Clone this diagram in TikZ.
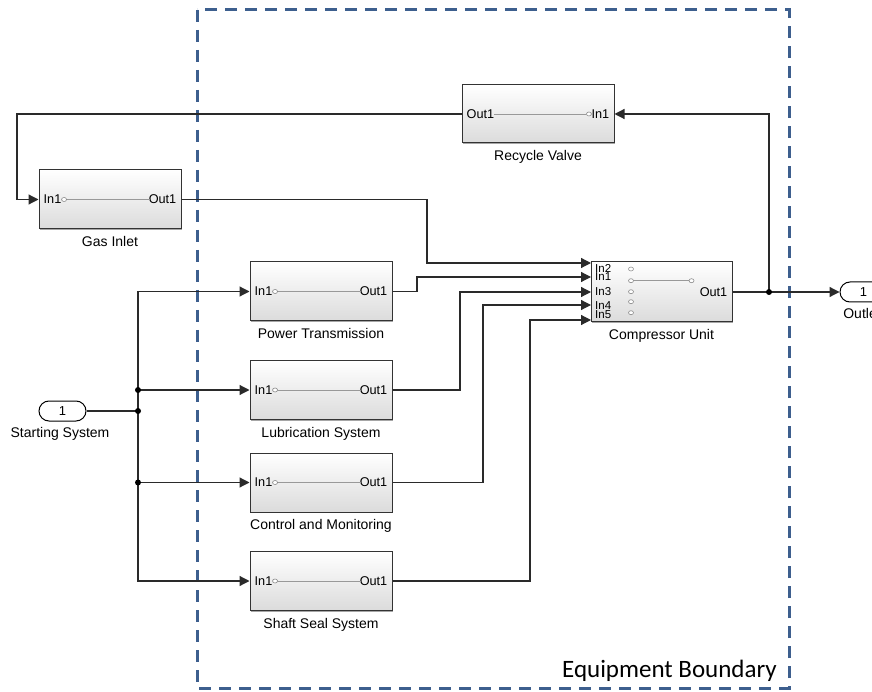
\documentclass[tikz,border=0pt]{standalone}
\usepackage{fontspec}
\setmainfont{Liberation Sans}
\newfontfamily\calib{Carlito}
\usetikzlibrary{arrows.meta,shadows,calc}
\definecolor{bnd}{HTML}{3D5F8E}
\definecolor{wire}{HTML}{2A2A2A}
\tikzset{
 blk/.style={draw=black!80, line width=1pt, top color=white, bottom color=black!14,
   drop shadow={shadow xshift=1.3pt,shadow yshift=-1.3pt,opacity=0.35,fill=black}, inner sep=0},
 wirel/.style={draw=wire, line width=1.2pt},
 arr/.style={wirel, -{Triangle[length=10pt,width=10pt]}},
 plab/.style={font=\fontsize{12.7}{12}\selectfont, inner sep=0},
 cplab/.style={font=\fontsize{11.5}{11}\selectfont, inner sep=0, anchor=west},
 blab/.style={font=\fontsize{14}{14}\selectfont, inner sep=0},
 inln/.style={draw=black!40, line width=0.6pt},
 oval/.style={draw=black!45, line width=0.6pt, fill=white},
 dotp/.style={fill=black},
 portio/.style={draw=black, line width=1pt, rounded corners=10pt, minimum width=47pt,
   minimum height=20pt, inner sep=0, font=\fontsize{13}{13}\selectfont},
}
\newcommand\sblk[4]{%
 \node[blk, minimum width=142pt, minimum height=59pt] (#1) at (#2,#3) {};
 \node[plab, anchor=west] (#1-i) at ([xshift=5pt]#1.west) {In1};
 \node[plab, anchor=east] (#1-o) at ([xshift=-5pt]#1.east) {Out1};
 \draw[inln] ([xshift=5pt]#1-i.east) -- ([xshift=1pt]#1-o.west);
 \draw[oval] ([xshift=2.5pt]#1-i.east) ellipse (2.5pt and 2pt);
 \node[blab, anchor=north] at ([yshift=-7pt]#1.south) {#4};
}
\begin{document}
\begin{tikzpicture}[x=1pt,y=-1pt]
\useasboundingbox (0,0) rectangle (872,692);
% boundary
\draw[bnd, line width=3pt, dash pattern=on 12pt off 8pt] (197,10) rectangle (789,688);
\node[font=\calib\fontsize{25}{25}\selectfont, anchor=base east, inner sep=0] at (777,677) {Equipment Boundary};

% recycle valve
\node[blk, minimum width=152pt, minimum height=58pt] (rv) at (538,114) {};
\node[plab, anchor=west] (rv-o) at ([xshift=5pt]rv.west) {Out1};
\node[plab, anchor=east] (rv-i) at ([xshift=-5pt]rv.east) {In1};
\draw[inln] (rv-o.east) -- ([xshift=-5pt]rv-i.west);
\draw[oval] ([xshift=-2.5pt]rv-i.west) ellipse (2.5pt and 2pt);
\node[blab, anchor=north] at ([yshift=-7pt]rv.south) {Recycle Valve};

% gas inlet and parallel blocks
\sblk{gi}{110}{199.5}{Gas Inlet}
\sblk{pt}{321}{291.5}{Power Transmission}
\sblk{ls}{321}{390}{Lubrication System}
\sblk{cm}{321}{482.5}{Control and Monitoring}
\sblk{ss}{321}{581}{Shaft Seal System}

% compressor unit
\node[blk, minimum width=141pt, minimum height=60pt] (cu) at (661.5,292) {};
\node[cplab] at (595,268) {In2};
\node[cplab] at (595,277) {In1};
\node[cplab] at (595,292) {In3};
\node[cplab] at (595,306) {In4};
\node[cplab] at (595,314.5) {In5};
\draw[inln] (633,280.7) -- (689,280.7);
\foreach \yy in {269,280.7,291.7,301.7,312.7} \draw[oval] (631,\yy) ellipse (2.5pt and 2pt);
\draw[oval] (691.5,280.7) ellipse (2.5pt and 2pt);
\node[plab, anchor=east] at ([xshift=-5pt]cu.east) {Out1};
\node[blab, anchor=north] at ([yshift=-7pt]cu.south) {Compressor Unit};
\coordinate (cu2) at (591,263);
\coordinate (cu1) at (591,277);
\coordinate (cu3) at (591,292);
\coordinate (cu4) at (591,305);
\coordinate (cu5) at (591,320);

% ports
\node[portio] (st) at (62.5,411) {1};
\node[blab, anchor=north] at (60,427) {Starting System};
\node[portio] (op) at (863.5,292) {1};
\node[blab, anchor=north] at (862,308) {Outlet};

% connectors
\draw[arr] (gi.east) -| (427,263) -- (cu2);
\draw[arr] (pt.east) -| (417,277) -- (cu1);
\draw[arr] (ls.east) -| (460,292) -- (cu3);
\draw[arr] (cm.east) -| (483,305) -- (cu4);
\draw[arr] (ss.east) -| (530,320) -- (cu5);
\coordinate (br) at (769,292);
\draw[arr] (cu.east) -- (op.west);
\draw[arr] (br) |- (rv.east);
\fill[dotp] (br) circle (3pt);
\draw[arr] (rv.west) -| (17,199.5) -- (gi.west);

\coordinate (sb) at (138,411);
\draw[wirel] (st.east) -- (sb);
\draw[arr] (sb) |- (pt.west);
\draw[arr] (sb) |- (ls.west);
\draw[arr] (sb) |- (cm.west);
\draw[arr] (sb) |- (ss.west);
\fill[dotp] (sb) circle (3pt);
\fill[dotp] (sb|-ls.west) circle (3pt);
\fill[dotp] (sb|-cm.west) circle (3pt);
\end{tikzpicture}
\end{document}
